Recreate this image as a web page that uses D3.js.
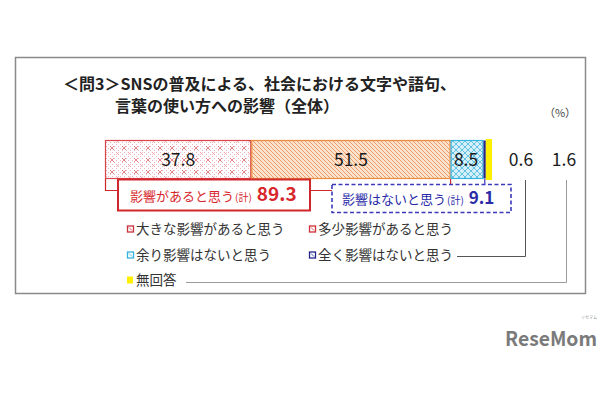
<!DOCTYPE html>
<html><head><meta charset="utf-8">
<script src="https://cdn.jsdelivr.net/npm/d3@7"></script>
<style>
html,body{margin:0;padding:0;background:#fff;}
text{font-family:"Noto Sans CJK JP","Noto Sans",sans-serif;}
</style></head>
<body><svg id="c" width="610" height="400"></svg>
<script>
const categories = ["大きな影響があると思う","多少影響があると思う","余り影響はないと思う","全く影響はないと思う","無回答"];
const values = [37.8, 51.5, 8.5, 0.6, 1.6];
const totalLabels = ["影響があると思う", "影響はないと思う"];
const totalValues = [89.3, 9.1];
const titleLines = ["＜問3＞SNSの普及による、社会における文字や語句、", "言葉の使い方への影響（全体）"];
const unitLabel = "（%）";

const svg = d3.select("#c");
const defs = svg.append("defs");

// patterns
const p1 = defs.append("pattern").attr("id","pRed").attr("patternUnits","userSpaceOnUse").attr("width",12).attr("height",12);
p1.append("rect").attr("width",12).attr("height",12).attr("fill","#fff");
for (let i=0;i<12;i+=2) for (let j=0;j<12;j+=2) {
  if ((i+j)%4===0) p1.append("rect").attr("x",i).attr("y",j).attr("width",1).attr("height",1).attr("fill","#f0b4b8");
}
p1.append("path").attr("d","M2,2 L6,6 M6,2 L2,6").attr("stroke","#e06a72").attr("stroke-width",0.8);
p1.append("path").attr("d","M8,8 L11,11 M11,8 L8,11").attr("stroke","#f2a0a6").attr("stroke-width",0.7);

const p2 = defs.append("pattern").attr("id","pOrange").attr("patternUnits","userSpaceOnUse").attr("width",4).attr("height",4);
p2.append("rect").attr("width",4).attr("height",4).attr("fill","#fbe3cf");
p2.append("path").attr("d","M0,0 L4,4 M-1,3 L1,5 M3,-1 L5,1").attr("stroke","#e8955a").attr("stroke-width",0.9);

const p3 = defs.append("pattern").attr("id","pCyan").attr("patternUnits","userSpaceOnUse").attr("width",6).attr("height",6);
p3.append("rect").attr("width",6).attr("height",6).attr("fill","#d6f0fa");
p3.append("path").attr("d","M0,0 L6,6 M6,0 L0,6").attr("stroke","#56bde0").attr("stroke-width",0.9);

const fills = ["url(#pRed)","url(#pOrange)","url(#pCyan)","#26268a","#ffef00"];
const strokes = ["#d9434a","#ef8b3a","#35b2de","#26268a","#ffef00"];

// frame
svg.append("rect").attr("x",15.5).attr("y",57.5).attr("width",570).attr("height",236)
  .attr("fill","none").attr("stroke","#8a8a8a").attr("stroke-width",1.5);

// title
svg.append("text").attr("x",63).attr("y",90).attr("font-size",16).attr("font-weight",700).attr("fill","#222").text(titleLines[0]);
svg.append("text").attr("x",115).attr("y",112).attr("font-size",16).attr("font-weight",700).attr("fill","#222").text(titleLines[1]);
svg.append("text").attr("x",560).attr("y",117).attr("font-size",11).attr("text-anchor","middle").attr("fill","#444").text(unitLabel);

// scales
const x = d3.scaleLinear().domain([0,100]).range([105,492]);
const y = d3.scaleBand().domain(["全体"]).range([140,179]);

const cum = [];
values.reduce((a,v,i)=>{cum[i]=a; return a+v;},0);

// leader lines for small values (drawn first)
const lead0 = svg.append("g").attr("fill","none");
lead0.append("path").attr("d","M525.5,"+(y.range()[1]+1)+" V256.5 H457").attr("stroke","#555").attr("stroke-width",1);
lead0.append("path").attr("d","M566.5,"+(y.range()[1]+1)+" V282.5 H186").attr("stroke","#9a9a9a").attr("stroke-width",1);

// bars
const bars = svg.append("g");
values.forEach((v,i)=>{
  const x0 = x(cum[i]), x1 = x(cum[i]+v);
  const isY = i===4;
  bars.append("rect")
    .attr("x", x0 + (i<3?0.5:0)).attr("y", y("全体") + (isY?-1:0.5))
    .attr("width", Math.max(1, x1-x0-(i<3?1:0)))
    .attr("height", y.bandwidth() + (isY?2:-1))
    .attr("fill", fills[i]).attr("stroke", i<3?strokes[i]:"none").attr("stroke-width", i<3?1.2:0);
});

// value labels inside bars
const yc = y("全体") + y.bandwidth()/2;
[0,1,2].forEach(i=>{
  svg.append("text").attr("x", x(cum[i]+values[i]/2) + (i===2?-1:0)).attr("y", yc+6)
    .attr("text-anchor","middle").attr("font-size",17.5).attr("fill","#1a1a1a").text(values[i].toFixed(1));
});
// outside labels
const outX = [521, 564];
[3,4].forEach((i,k)=>{
  svg.append("text").attr("x", outX[k]).attr("y", yc+6).attr("text-anchor","middle")
    .attr("font-size",17.5).attr("fill","#1a1a1a").text(values[i].toFixed(1));
});

// brackets
const yb = y.range()[1];
svg.append("path").attr("fill","none").attr("stroke","#d0262c").attr("stroke-width",1.2)
  .attr("d",`M${x(0)+0.5},${yb} V190.5 H118 M310,190.5 H${x(values[0]+values[1])} V${yb}`);
svg.append("path").attr("fill","none").attr("stroke","#3a3ab8").attr("stroke-width",1.2)
  .attr("d",`M${x(cum[3]+values[3])-1},${yb} V184`);

// red box
svg.append("rect").attr("x",118).attr("y",179.5).attr("width",192).attr("height",31)
  .attr("fill","#fff").attr("stroke","#d0262c").attr("stroke-width",2);
const t1 = svg.append("text").attr("x",130).attr("y",201).attr("fill","#d8262c");
t1.append("tspan").attr("font-size",13).text(totalLabels[0]);
t1.append("tspan").attr("font-size",10).attr("dx",1).text("(計)");
t1.append("tspan").attr("font-size",19).attr("font-weight",700).attr("dx",5).text(totalValues[0].toFixed(1));

// blue dashed box
svg.append("rect").attr("x",332).attr("y",184.5).attr("width",179).attr("height",28)
  .attr("fill","#fff").attr("stroke","#3a3ab8").attr("stroke-width",1.6).attr("stroke-dasharray","4,2.5");
const t2 = svg.append("text").attr("x",342).attr("y",204).attr("fill","#2b2ba8");
t2.append("tspan").attr("font-size",13).text(totalLabels[1]);
t2.append("tspan").attr("font-size",10).attr("dx",1).text("(計)");
t2.append("tspan").attr("font-size",17).attr("font-weight",700).attr("dx",5).text(totalValues[1].toFixed(1));

// legend
const legPos = [[127,229],[309,229],[127,255],[309,255],[127,280]];
categories.forEach((c,i)=>{
  const [lx,ly] = legPos[i];
  const g = svg.append("g");
  if (i===4) {
    g.append("rect").attr("x",lx).attr("y",ly-3.5).attr("width",6).attr("height",7).attr("fill","#ffef00");
  } else {
    g.append("rect").attr("x",lx+0.5).attr("y",ly-3).attr("width",6).attr("height",6)
      .attr("fill","#fff").attr("stroke",i===0?"#c8323a":i===1?"#d0303a":strokes[i]).attr("stroke-width",1.3);
    g.append("path").attr("d",`M${lx+2},${ly-1.5} L${lx+5},${ly+1.5}`).attr("stroke",i===0?"#c8323a":i===1?"#d0303a":strokes[i]).attr("stroke-width",0.8);
  }
  g.append("text").attr("x",lx+9).attr("y",ly+5).attr("font-size",13.5).attr("fill","#333").text(c);
});

// logo
svg.append("text").attr("x",505).attr("y",346).attr("font-size",20).attr("font-weight",700)
  .attr("font-family","'Open Sans',sans-serif").attr("fill","#7a7a7a").attr("textLength",92).attr("lengthAdjust","spacingAndGlyphs").text("ReseMom");
svg.append("text").attr("x",589).attr("y",319).attr("font-size",4).attr("text-anchor","middle").attr("fill","#999").text("リセマム");
</script>
</body></html>
